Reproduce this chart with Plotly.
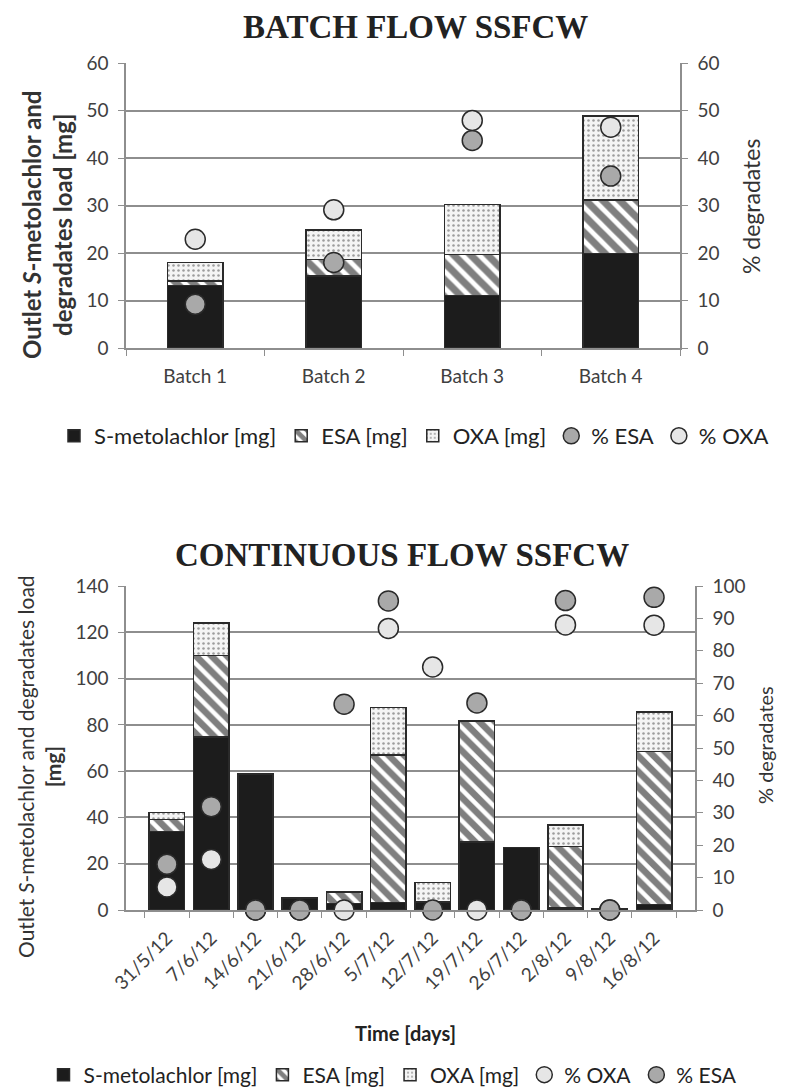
import plotly.graph_objects as go

# ---------------- data ----------------
batches = ["Batch 1", "Batch 2", "Batch 3", "Batch 4"]
batch_smet = [13.2, 15.2, 11.1, 19.9]
batch_esa = [0.9, 3.4, 8.6, 11.3]
batch_oxa = [3.9, 6.2, 10.5, 17.6]
batch_pct_esa = [9.2, 18.0, 43.7, 36.2]
batch_pct_oxa = [22.9, 29.1, 47.9, 46.5]

dates = ["31/5/12", "7/6/12", "14/6/12", "21/6/12", "28/6/12", "5/7/12",
         "12/7/12", "19/7/12", "26/7/12", "2/8/12", "9/8/12", "16/8/12"]
cont_smet = [33.9, 74.7, 58.8, 5.2, 2.8, 3.2, 3.4, 29.3, 27.0, 0.9, 0.6, 2.3]
cont_esa = [5.1, 35.3, 0, 0, 4.9, 63.8, 0, 52.3, 0, 26.5, 0, 66.1]
cont_oxa = [3.2, 14.0, 0, 0, 0, 20.4, 8.4, 0, 0, 9.3, 0, 17.1]
cont_pct_oxa = [7.1, 15.6, 0, 0, 0, 86.9, 75.0, 0, 0, 88.0, 0, 87.9]
cont_pct_esa = [14.1, 31.9, 0, 0, 63.5, 95.4, 0, 63.9, 0, 95.5, 0, 96.5]

# ---------------- styles ----------------
SANS = "Lato"
SERIF = "Liberation Serif"
GRID = "#8e8e8e"
TXT = "#404040"
OUT = "#2a2a2a"
LIGHT = "#e6e6e6"
DARK = "#a9a9a9"

# page body has an 8px margin; figure is sized so that it fills the window
OFF = 8
W, H = 793 - OFF, 1090 - OFF


def px(X):
    return (X - OFF) / W


def py(Y):
    return 1 - (Y - OFF) / H


def nz(v):
    return [x if x else None for x in v]


def bar_traces(x, smet, esa, oxa, xa, ya, width, legend, psize):
    common = dict(x=x, xaxis=xa, yaxis=ya, width=width, legend=legend)
    return [
        go.Bar(y=nz(smet), name="S-metolachlor [mg]",
               marker=dict(color="#1c1c1c", line=dict(color=OUT, width=1.5)),
               **common),
        go.Bar(y=nz(esa), name="ESA [mg]",
               marker=dict(color="white", line=dict(color=OUT, width=1.5),
                           pattern=dict(shape="\\", fgcolor="#000000", bgcolor="white",
                                        size=psize, solidity=0.6)),
               **common),
        go.Bar(y=nz(oxa), name="OXA [mg]",
               marker=dict(color="#f2f2f2", line=dict(color=OUT, width=1.5),
                           pattern=dict(shape=".", fgcolor="#444444", bgcolor="#f4f4f4",
                                        size=5, solidity=0.2)),
               **common),
    ]


def circ(x, y, name, fill, xa, ya, legend):
    return go.Scatter(x=x, y=y, name=name, mode="markers", xaxis=xa, yaxis=ya,
                      legend=legend, cliponaxis=False,
                      marker=dict(size=20, color=fill, line=dict(color=OUT, width=1.5)))


fig = go.Figure()
for t in bar_traces(batches, batch_smet, batch_esa, batch_oxa, "x", "y", 0.4, "legend", 12):
    fig.add_trace(t)
fig.add_trace(circ(batches, batch_pct_esa, "% ESA", DARK, "x", "y2", "legend"))
fig.add_trace(circ(batches, batch_pct_oxa, "% OXA", LIGHT, "x", "y2", "legend"))

for t in bar_traces(dates, cont_smet, cont_esa, cont_oxa, "x2", "y3", 0.8, "legend2", 11):
    fig.add_trace(t)
fig.add_trace(circ(dates, cont_pct_oxa, "% OXA", LIGHT, "x2", "y4", "legend2"))
fig.add_trace(circ(dates, cont_pct_esa, "% ESA", DARK, "x2", "y4", "legend2"))

top_dom_x = [px(126), px(680)]
top_dom_y = [py(348), py(63)]
bot_dom_x = [px(126), px(695)]
bot_dom_y = [py(910), py(586)]

tickfont = dict(family=SANS, size=19, color=TXT)

yaxis_common = dict(showline=True, linecolor=GRID, linewidth=1.5, ticks="outside",
                    ticklen=6, tickcolor=GRID, tickfont=tickfont, zeroline=False,
                    ticklabelstandoff=6, automargin=False)

fig.update_layout(
    width=W, height=H, margin=dict(l=0, r=0, t=0, b=0, autoexpand=False),
    paper_bgcolor="white", plot_bgcolor="white",
    barmode="stack", showlegend=True,
    xaxis=dict(domain=top_dom_x, anchor="y", showline=True, linecolor=GRID, linewidth=1.5,
               ticks="outside", tickson="boundaries", ticklen=6, tickcolor=GRID,
               tickfont=tickfont, ticklabelstandoff=10, automargin=False),
    yaxis=dict(domain=top_dom_y, anchor="x", range=[0, 60], dtick=10,
               showgrid=True, gridcolor=GRID, gridwidth=1.5, **yaxis_common),
    yaxis2=dict(overlaying="y", side="right", anchor="x", range=[0, 60], dtick=10,
                showgrid=False, **yaxis_common),
    xaxis2=dict(domain=bot_dom_x, anchor="y3", showline=True, linecolor=GRID, linewidth=1.5,
                ticks="outside", tickson="boundaries", ticklen=6, tickcolor=GRID,
                tickangle=-45, tickfont=tickfont, ticklabelstandoff=8, automargin=False),
    yaxis3=dict(domain=bot_dom_y, anchor="x2", range=[0, 140], dtick=20,
                showgrid=True, gridcolor=GRID, gridwidth=1.5, **yaxis_common),
    yaxis4=dict(overlaying="y3", side="right", anchor="x2", range=[0, 100], dtick=10,
                showgrid=False, **yaxis_common),
    legend=dict(orientation="h", x=px(414), xanchor="center", y=py(436), yanchor="middle",
                font=dict(family=SANS, size=22, color="#222"), traceorder="normal",
                itemwidth=30, bgcolor="rgba(0,0,0,0)"),
    legend2=dict(orientation="h", x=px(393), xanchor="center", y=py(1075), yanchor="middle",
                 font=dict(family=SANS, size=21, color="#222"), traceorder="normal",
                 itemwidth=30, bgcolor="rgba(0,0,0,0)"),
)

ann = [
    dict(text="<b>BATCH FLOW SSFCW</b>", x=px(415), y=py(27),
         font=dict(family=SERIF, size=33, color="#222")),
    dict(text="<b>CONTINUOUS FLOW SSFCW</b>", x=px(402), y=py(555),
         font=dict(family=SERIF, size=33, color="#222")),
    dict(text="<b>Outlet <i>S</i>-metolachlor and<br>degradates load [mg]</b>",
         x=px(47), y=py(225), textangle=-90,
         font=dict(family=SANS, size=24, color="#333")),
    dict(text="% degradates", x=px(751), y=py(207), textangle=-90,
         font=dict(family=SANS, size=23, color="#333")),
    dict(text="Outlet <i>S</i>-metolachlor and degradates load<br><b>[mg]</b>",
         x=px(39), y=py(767), textangle=-90,
         font=dict(family=SANS, size=21, color="#333")),
    dict(text="% degradates", x=px(765), y=py(745), textangle=-90,
         font=dict(family=SANS, size=20, color="#333")),
    dict(text="<b>Time [days]</b>", x=px(405), y=py(1033),
         font=dict(family=SANS, size=20, color="#222")),
]
for a in ann:
    fig.add_annotation(xref="paper", yref="paper", showarrow=False,
                       xanchor="center", yanchor="middle", **a)

fig.write_html("out.html")
